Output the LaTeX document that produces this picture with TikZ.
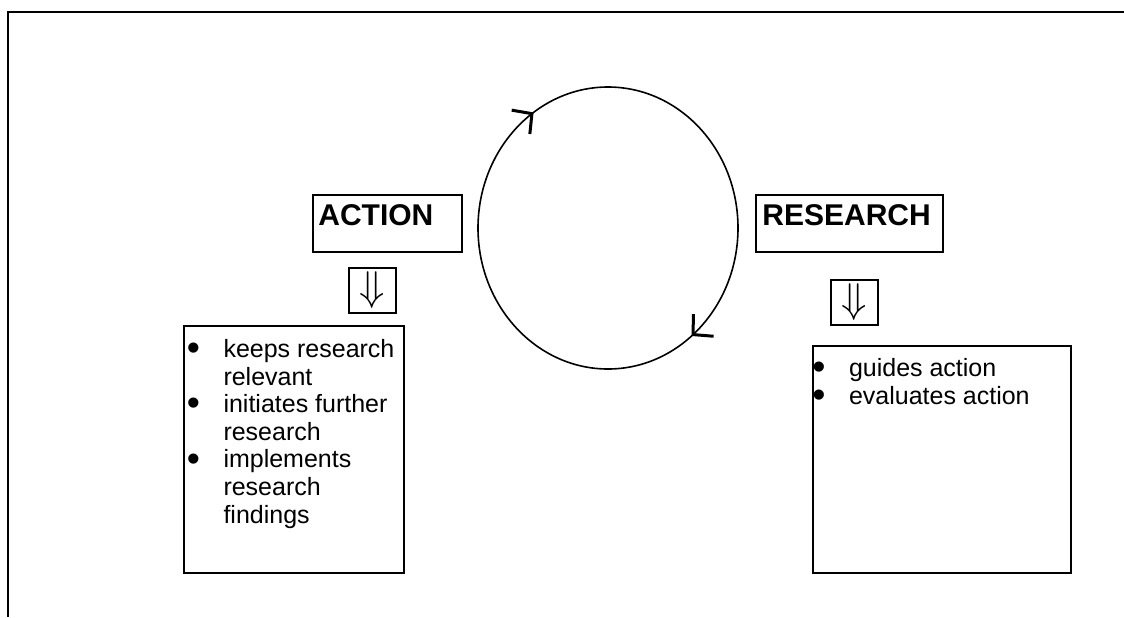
\documentclass[tikz,border=0pt]{standalone}
\usepackage{fontspec}
\setmainfont{Liberation Sans}
\usetikzlibrary{positioning,arrows.meta,decorations.markings}

\newcommand{\blt}{\makebox[18.3pt][l]{\smash{\raisebox{-1.6pt}{\scalebox{1.5}{\textbullet}}}}}
\newcommand{\listind}{\hspace*{18.3pt}}
\newcommand{\darr}{{\fontsize{20pt}{20pt}\selectfont$\Downarrow$}}

\begin{document}
\begin{tikzpicture}[x=0.5pt,y=-0.5pt,
    outline/.style={line width=1pt},
    labelbox/.style={draw,line width=0.75pt,anchor=north west,inner sep=0pt,minimum height=28.5pt},
    headtext/.style={font=\fontsize{15pt}{18pt}\selectfont\bfseries,anchor=base west,inner sep=0pt},
    arrbox/.style={draw,line width=0.75pt,anchor=north west,inner sep=0pt,minimum width=23.5pt,minimum height=22.5pt},
    listbox/.style={draw,line width=0.75pt,anchor=north west,inner sep=0pt},
    listtext/.style={font=\fontsize{12.5pt}{13.8pt}\selectfont,align=left,anchor=north west,inner sep=0pt},
    barbtip/.tip={Straight Barb[length=7pt,width=15pt,line width=1.5pt]},
    loopline/.style={line width=0.8pt,postaction={decorate},
        decoration={markings,
            mark=at position 0.142 with {\arrow{barbtip}},
            mark=at position 0.656 with {\arrow{barbtip}}}},
]
    \useasboundingbox (0,0) rectangle (1124,617);

    % page edge
    \draw [outline] (1124,12) -- (8,12) -- (8,617);

    % the two headings
    \node [labelbox,minimum width=74.5pt] (actbox) at (312,194) {};
    \node [headtext] (act) at (318,225) {ACTION};
    \node [labelbox,minimum width=93.5pt] (resbox) at (755,194) {};
    \node [headtext] (res) at (762,225) {RESEARCH};

    \node [arrbox] (actarr) at (348,267) {\darr};
    \node [arrbox] (resarr) at (830,279) {\darr};

    % the lists
    \node [listbox,minimum width=110pt,minimum height=123.5pt] (actlist) at (183,325) {};
    \node [listtext] (acttext) at (186.5,339) {\blt keeps research\\\listind relevant\\
        \blt initiates further\\\listind research\\
        \blt implements\\\listind research\\\listind findings};
    \node [listbox,minimum width=129pt,minimum height=113.5pt] (reslist) at (812,345) {};
    \node [listtext] (restext) at (812,358) {\blt guides action\\\blt evaluates action};

    % the cycle
    \coordinate (c) at (608,228);
    \draw [loopline] (c) ellipse [x radius=130, y radius=141];
\end{tikzpicture}
\end{document}
